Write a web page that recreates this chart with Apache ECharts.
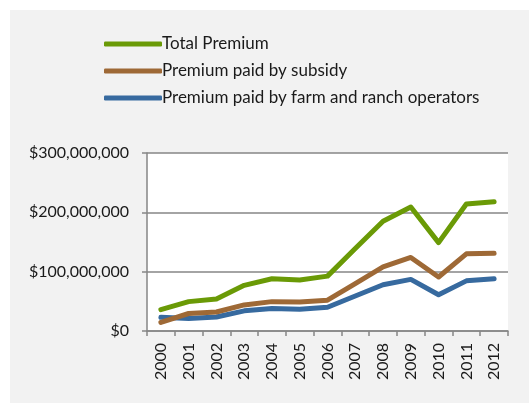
<!DOCTYPE html>
<html>
<head>
<meta charset="utf-8">
<style>
  html, body { margin: 0; padding: 0; background: #fff; }
  #chart { width: 529px; height: 406px; }
</style>
<script src="https://cdn.jsdelivr.net/npm/echarts@6/dist/echarts.min.js"></script>
</head>
<body>
<div id="chart"></div>
<script>
// Crop insurance premium, 2000-2012 (US dollars)
const years = ['2000','2001','2002','2003','2004','2005','2006','2007','2008','2009','2010','2011','2012'];
const totalPremium = [36e6, 49.5e6, 54e6, 77e6, 88e6, 86e6, 92.5e6, 139e6, 185e6, 209e6, 149e6, 214e6, 218e6];
const subsidyPremium = [14.5e6, 29.5e6, 32e6, 44e6, 49.5e6, 49e6, 52e6, 80e6, 108e6, 124e6, 91e6, 130e6, 131e6];
const operatorPremium = [23e6, 21e6, 23.5e6, 34e6, 38e6, 36.5e6, 40e6, 59e6, 78e6, 87e6, 61e6, 84.5e6, 88e6];
const yTicks = [0, 100e6, 200e6, 300e6];

const seriesNames = ['Total Premium', 'Premium paid by subsidy', 'Premium paid by farm and ranch operators'];
const seriesColors = ['#6a9a06', '#9e6936', '#376a9f'];
const seriesData = [totalPremium, subsidyPremium, operatorPremium];

const FONT = 'Lato, "Open Sans", sans-serif';
const AXIS_GREY = '#868686';

const chart = echarts.init(document.getElementById('chart'), null, { renderer: 'canvas' });

chart.setOption({
  backgroundColor: '#ffffff',
  animation: false,
  textStyle: { fontFamily: FONT },
  graphic: [{
    type: 'rect',
    z: -10,
    silent: true,
    shape: { x: 10, y: 10, width: 519, height: 393 },
    style: { fill: '#f2f2f2' }
  }],
  legend: {
    orient: 'vertical',
    left: 99,
    top: 29,
    itemWidth: 58,
    itemHeight: 5,
    itemGap: 7,
    icon: 'roundRect',
    textStyle: { fontFamily: FONT, fontSize: 17, color: '#1a1a1a', lineHeight: 20, padding: [0, 0, 0, -5] },
    data: seriesNames
  },
  grid: {
    left: 147, right: 21, top: 153, bottom: 75,
    show: true, backgroundColor: '#ffffff', borderWidth: 0
  },
  xAxis: {
    type: 'category',
    data: years,
    boundaryGap: true,
    axisLine: { lineStyle: { color: AXIS_GREY, width: 1.5 } },
    axisTick: { show: true, length: 5, interval: 0, lineStyle: { color: AXIS_GREY, width: 1.5 } },
    axisLabel: { rotate: 90, interval: 0, margin: 12, fontSize: 16, color: '#1a1a1a', fontFamily: FONT }
  },
  yAxis: {
    type: 'value',
    min: yTicks[0],
    max: yTicks[yTicks.length - 1],
    interval: yTicks[1] - yTicks[0],
    axisLine: { show: true, lineStyle: { color: AXIS_GREY, width: 1.5 } },
    axisTick: { show: true, length: 5, lineStyle: { color: AXIS_GREY, width: 1.5 } },
    splitLine: { lineStyle: { color: AXIS_GREY, width: 1.5 } },
    axisLabel: {
      margin: 18, fontSize: 16, color: '#1a1a1a', fontFamily: FONT,
      formatter: v => '$' + v.toLocaleString('en-US')
    }
  },
  series: seriesData.map((d, i) => ({
    name: seriesNames[i],
    type: 'line',
    data: d,
    symbol: 'none',
    color: seriesColors[i],
    lineStyle: { width: 5, color: seriesColors[i], cap: 'round', join: 'round' },
    z: 10 - i
  }))
});
</script>
</body>
</html>
